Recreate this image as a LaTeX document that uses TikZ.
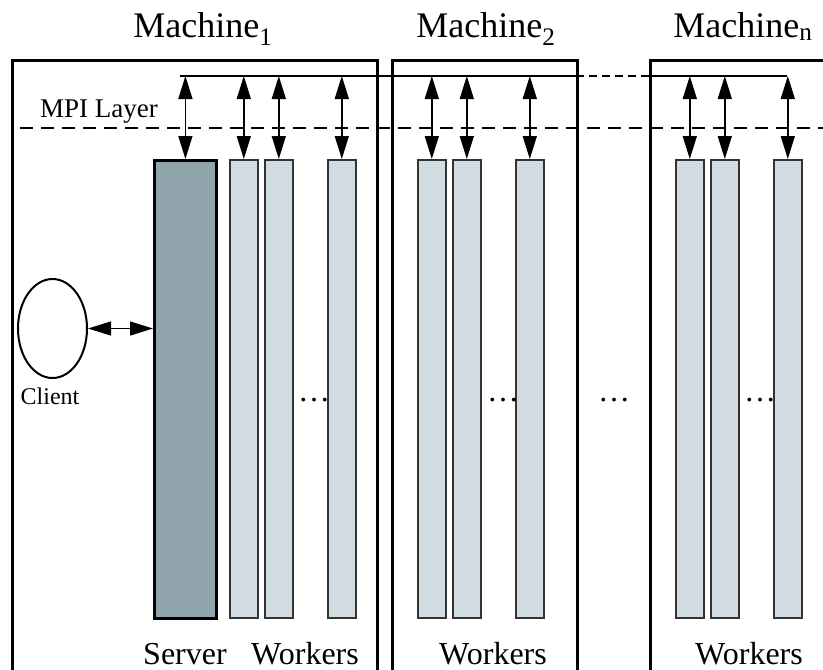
\documentclass[tikz,border=0pt]{standalone}
\usepackage{fontspec}
\setmainfont{Liberation Serif}
\usetikzlibrary{arrows.meta,shapes.geometric}
\definecolor{serverfill}{HTML}{8FA5AB}
\definecolor{workerfill}{HTML}{D0DCE2}
\definecolor{barline}{HTML}{333333}
\begin{document}
\begin{tikzpicture}[x=1pt,y=-1pt,
  machinebox/.style={draw=black, line width=2.8pt, rectangle, inner sep=0pt, anchor=north west},
  wbar/.style={draw=barline, line width=1.6pt, fill=workerfill, rectangle, inner sep=0pt,
               minimum width=28pt, minimum height=458pt, anchor=north west},
  sbar/.style={draw=black, line width=2.8pt, fill=serverfill, rectangle, inner sep=0pt,
               minimum width=62pt, minimum height=458pt, anchor=north west},
  busline/.style={line width=2pt},
  busgap/.style={line width=2pt, dash pattern=on 8pt off 5pt},
  mpiline/.style={line width=1.8pt, dash pattern=on 13pt off 8pt},
  dblarrow/.style={line width=1.4pt, {Triangle[length=23pt,width=14pt]}-{Triangle[length=23pt,width=14pt]}},
  lbl/.style={inner sep=0pt, anchor=base},
  titlefont/.style={font=\fontsize{36}{40}\selectfont},
  botfont/.style={font=\fontsize{32}{36}\selectfont},
  dotsfont/.style={font=\fontsize{32}{36}\selectfont}
]
\useasboundingbox (0,0) rectangle (823,670);
\clip (0,0) rectangle (823,670);

% machine boxes
\node[machinebox, minimum width=365pt, minimum height=640pt] (m1) at (11,59) {};
\node[machinebox, minimum width=185pt, minimum height=640pt] (m2) at (391,59) {};
\node[machinebox, minimum width=200pt, minimum height=640pt] (mn) at (649,59) {};

% titles
\node[lbl, titlefont] (t1) at (203,37) {Machine\textsubscript{1}};
\node[lbl, titlefont] (t2) at (486,37) {Machine\textsubscript{2}};
\node[lbl, titlefont] (tn) at (743,37) {Machine\textsubscript{n}};

% MPI layer
\draw[mpiline] (20,128) -- (823,128);
\node[inner sep=0pt, anchor=base west, font=\fontsize{27}{30}\selectfont] (mpi) at (40,117) {MPI Layer};

% bus
\coordinate (busA) at (180,76);
\coordinate (busB) at (576,76);
\coordinate (busC) at (649,76);
\coordinate (busD) at (787,76);
\draw[busline] (busA) -- (busB);
\draw[busgap] (busB) -- (busC);
\draw[busline] (busC) -- (busD);

% bars
\node[sbar] (s) at (153,159) {};
\node[wbar] (w11) at (229,159) {};
\node[wbar] (w12) at (264,159) {};
\node[wbar] (w13) at (327,159) {};
\node[wbar] (w21) at (417,159) {};
\node[wbar] (w22) at (452,159) {};
\node[wbar] (w23) at (515,159) {};
\node[wbar] (wn1) at (675,159) {};
\node[wbar] (wn2) at (710,159) {};
\node[wbar] (wn3) at (773,159) {};

% vertical arrows
\foreach \b in {s,w11,w12,w13,w21,w22,w23,wn1,wn2,wn3}
  \draw[dblarrow] (\b.north |- busA) -- (\b.north);

% client
\node[ellipse, draw=black, line width=2pt, minimum width=69pt, minimum height=99pt, inner sep=0pt] (client) at (52.5,328.5) {};
\node[lbl, font=\fontsize{24}{28}\selectfont] (clientlbl) at (50,404) {Client};
\draw[dblarrow] (client.east) -- (s.west |- client.east);

% dots
\node[lbl, dotsfont] (d1) at (314,401) {…};
\node[lbl, dotsfont] (d2) at (503,401) {…};
\node[lbl, dotsfont] (d3) at (614,401) {…};
\node[lbl, dotsfont] (d4) at (760,401) {…};

% bottom labels
\node[lbl, botfont] (srv) at (185,664) {Server};
\node[lbl, botfont] (wk1) at (305,664) {Workers};
\node[lbl, botfont] (wk2) at (493,664) {Workers};
\node[lbl, botfont] (wkn) at (749,664) {Workers};
\end{tikzpicture}
\end{document}
